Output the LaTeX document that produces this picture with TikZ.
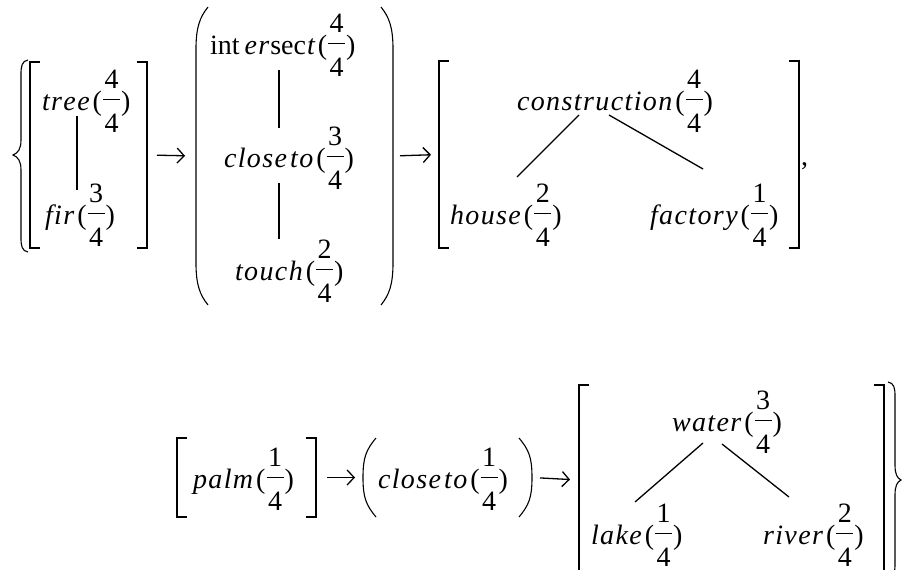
\documentclass[tikz,border=0pt]{standalone}
\usepackage{fontspec}
\setmainfont{Liberation Serif}
\usetikzlibrary{arrows.meta,calc}

% italic word with each letter set apart, as variables are spaced
\makeatletter
\newcommand\vw[1]{{\itshape\@tfor\lschar:=#1\do{\lschar\kern1.4pt}\unkern}}
\makeatother
% stacked fraction: numerator, rule, denominator
\newcommand\fr[2]{\kern1pt\rlap{\raisebox{22pt}{\makebox[17pt]{#1}}}%
  \rlap{\raisebox{-22pt}{\makebox[17pt]{#2}}}%
  \raisebox{10pt}{\rule{17pt}{0.9pt}}\kern1pt}
% a weighted term: word(num/den)
\newcommand\term[3]{#1\kern3pt(\fr{#2}{#3})}

\begin{document}
\begin{tikzpicture}[x=1pt,y=-1pt,
  font=\fontsize{28}{30}\selectfont,
  lbl/.style={anchor=base west, inner sep=0pt, outer sep=0pt},
  grp/.style={inner sep=0pt, outer sep=0pt},
  br/.style={line width=1.1pt},
  edge/.style={line width=1.3pt},
  arr/.style={line width=1.3pt, -{Straight Barb[length=7pt,width=15pt]}}]
\useasboundingbox (0,0) rectangle (902,570);
\clip (0,0) rectangle (902,570);

% ---------- groups (bracketed blocks) ----------
\node[grp, minimum width=117pt, minimum height=186pt] (A) at (88.5,155) {};
\node[grp, minimum width=197pt, minimum height=298pt] (B) at (294.5,156) {};
\node[grp, minimum width=360pt, minimum height=187pt] (C) at (619,154.5) {};
\node[grp, minimum width=139pt, minimum height=79pt] (D) at (246.5,477.5) {};
\node[grp, minimum width=169pt, minimum height=79pt] (E) at (447.5,477.5) {};
\node[grp, minimum width=305pt, minimum height=190pt] (F) at (731.5,480) {};

% ---------- terms ----------
\node[lbl] (tree) at (42,110) {\term{\vw{tree}}{4}{4}};
\node[lbl] (fir) at (45,224) {\term{\vw{fir}}{3}{4}};

\node[lbl] (inter) at (210,54) {\term{int\kern5pt\vw{er}\kern1pt sec\kern1pt\vw{t}}{4}{4}};
\node[lbl] (close) at (224,167) {\term{\vw{close}\kern3pt\vw{to}}{3}{4}};
\node[lbl] (touch) at (235,280) {\term{\vw{touch}}{2}{4}};

\node[lbl] (constr) at (517,110) {\term{\vw{construction}}{4}{4}};
\node[lbl] (house) at (450,224) {\term{\vw{house}}{2}{4}};
\node[lbl] (factory) at (650,224) {\term{\vw{factory}}{1}{4}};
\node[lbl] (comma) at (801,165) {,};

\node[lbl] (palm) at (193,488) {\term{\vw{palm}}{1}{4}};
\node[lbl] (close2) at (378,488) {\term{\vw{close}\kern3pt\vw{to}}{1}{4}};

\node[lbl] (water) at (672,431) {\term{\vw{water}}{3}{4}};
\node[lbl] (lake) at (591,544) {\term{\vw{lake}}{1}{4}};
\node[lbl] (river) at (763,544) {\term{\vw{river}}{2}{4}};

% ---------- tree edges ----------
\draw[edge] ($(tree.base west)+(35,6)$) -- ($(fir.base west)+(32,-34)$);
\draw[edge] ($(inter.base west)+(69,16)$) -- ($(close.base west)+(55,-39)$);
\draw[edge] ($(close.base west)+(55,16)$) -- ($(touch.base west)+(44,-41)$);
\draw[edge] ($(constr.base west)+(62,5)$) -- ($(house.base west)+(67,-47)$);
\draw[edge] ($(constr.base west)+(92,5)$) -- ($(factory.base west)+(53,-55)$);
\draw[edge] ($(water.base west)+(31,12)$) -- ($(lake.base west)+(44,-42)$);
\draw[edge] ($(water.base west)+(50,13)$) -- ($(river.base west)+(26,-47)$);

% ---------- square brackets ----------
\foreach \g in {A,C,D,F}{
  \draw[br] ([xshift=10pt]\g.north west) -- (\g.north west) -- (\g.south west) -- ([xshift=10pt]\g.south west);
  \draw[br] ([xshift=-10pt]\g.north east) -- (\g.north east) -- (\g.south east) -- ([xshift=-10pt]\g.south east);
}

% ---------- round brackets ----------
\draw[br] ([xshift=12pt]B.north west) .. controls +(-8,10) and +(0,-22) .. ([yshift=-42pt]B.north west)
  -- ([yshift=42pt]B.south west) .. controls +(0,22) and +(-8,-10) .. ([xshift=12pt]B.south west);
\draw[br] ([xshift=-12pt]B.north east) .. controls +(8,10) and +(0,-22) .. ([yshift=-42pt]B.north east)
  -- ([yshift=42pt]B.south east) .. controls +(0,22) and +(8,-10) .. ([xshift=-12pt]B.south east);
\draw[br] ([xshift=13pt]E.north west) .. controls +(-10,12) and +(0,-20) .. (E.west)
  .. controls +(0,20) and +(-10,-12) .. ([xshift=13pt]E.south west);
\draw[br] ([xshift=-13pt]E.north east) .. controls +(10,12) and +(0,-20) .. (E.east)
  .. controls +(0,20) and +(10,-12) .. ([xshift=-13pt]E.south east);

% ---------- outer braces ----------
\coordinate (lb) at (13,155);
\draw[br] (28,60) .. controls (22,61) and (21,66) .. (21,74) -- (21,140)
  .. controls (21,149) and (18,153) .. (lb) .. controls (18,157) and (21,161) .. (21,170)
  -- (21,238) .. controls (21,246) and (22,251) .. (28,252);
\coordinate (rb) at (901,480);
\draw[br] (888,382) .. controls (894,383) and (895,388) .. (895,396) -- (895,465)
  .. controls (895,474) and (897,478) .. (rb) .. controls (897,482) and (895,486) .. (895,495)
  -- (895,564) .. controls (895,572) and (894,577) .. (888,578);

% ---------- arrows between blocks ----------
\draw[arr, shorten <=10pt, shorten >=11pt] (A.east) -- (B.west);
\draw[arr, shorten <=7pt, shorten >=8pt] (B.east) -- (C.west);
\draw[arr, shorten <=11pt, shorten >=8pt] (D.east) -- (E.west);
\draw[arr, shorten <=8pt, shorten >=9pt] (E.east) -- (F.west);
\end{tikzpicture}
\end{document}
